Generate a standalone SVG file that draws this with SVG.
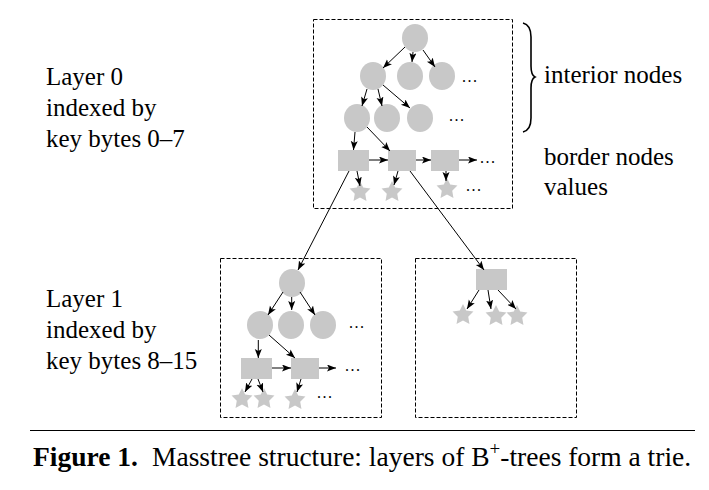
<svg xmlns="http://www.w3.org/2000/svg" width="709" height="490" viewBox="0 0 709 490">
<style>
.box{fill:none;stroke:#000;stroke-width:1;stroke-dasharray:4,2}
.nd{fill:#c8c8c8;stroke:none}
.cn line{stroke:#000;stroke-width:1}
.lbl{font-family:"Liberation Serif","Times New Roman",serif;font-size:25px;fill:#000}
.dots{font-family:"Liberation Serif","Times New Roman",serif;font-size:16px;fill:#000;letter-spacing:1.5px}
.cap{font-family:"Liberation Serif","Times New Roman",serif;font-size:27.5px;fill:#000}
</style>
<defs>
<marker id="ah" markerUnits="userSpaceOnUse" markerWidth="11" markerHeight="9" refX="9" refY="3.5" orient="auto">
<path d="M0,0 L9,3.5 L0,7 L2,3.5 z" fill="#000"/>
</marker>
<polygon id="star" points="0,-11 3.23,-4.45 10.46,-3.4 5.23,1.7 6.47,8.9 0,5.5 -6.47,8.9 -5.23,1.7 -10.46,-3.4 -3.23,-4.45"/>
</defs>
<rect width="709" height="490" fill="#fff"/>

<g id="layer0">
<rect class="box" x="313.5" y="19.5" width="199" height="189"/>
<g id="l0-interior" class="nd">
<ellipse cx="415" cy="38" rx="13" ry="14"/>
<ellipse cx="373" cy="76" rx="13" ry="14"/>
<ellipse cx="410" cy="76" rx="13" ry="14"/>
<ellipse cx="442" cy="76" rx="13" ry="14"/>
<ellipse cx="357" cy="118" rx="13" ry="14"/>
<ellipse cx="387" cy="118" rx="13" ry="14"/>
<ellipse cx="420" cy="118" rx="13" ry="14"/>
</g>
<g id="l0-border" class="nd">
<rect x="338" y="150" width="31" height="21"/>
<rect x="388" y="150" width="28" height="21"/>
<rect x="431" y="150" width="28" height="21"/>
</g>
<g id="l0-values" class="nd">
<use href="#star" x="360" y="192"/>
<use href="#star" x="392" y="192"/>
<use href="#star" x="447" y="189"/>
</g>
<text class="dots" x="462" y="82">...</text>
<text class="dots" x="449" y="121">...</text>
<text class="dots" x="480" y="163">...</text>
<text class="dots" x="466" y="191">...</text>
</g>

<g id="layer1-a">
<rect class="box" x="220.5" y="258.5" width="161" height="159"/>
<g class="nd">
<ellipse cx="292" cy="283" rx="13" ry="14"/>
<ellipse cx="260" cy="325" rx="13" ry="14"/>
<ellipse cx="291" cy="325" rx="13" ry="14"/>
<ellipse cx="323" cy="325" rx="13" ry="14"/>
<rect x="241" y="358" width="31" height="21"/>
<rect x="291" y="358" width="28" height="21"/>
<use href="#star" x="242" y="399"/>
<use href="#star" x="264" y="399"/>
<use href="#star" x="295" y="400"/>
</g>
<text class="dots" x="349" y="328">...</text>
<text class="dots" x="345" y="371">...</text>
<text class="dots" x="317" y="398">...</text>
</g>

<g id="layer1-b">
<rect class="box" x="415.5" y="258.5" width="161" height="159"/>
<g class="nd">
<rect x="476" y="269" width="31" height="21"/>
<use href="#star" x="463" y="315"/>
<use href="#star" x="496" y="316"/>
<use href="#star" x="517" y="316"/>
</g>
</g>

<g id="connectors" class="cn">
<line x1="405" y1="47" x2="383" y2="68" marker-end="url(#ah)"/>
<line x1="413" y1="52" x2="412" y2="62" marker-end="url(#ah)"/>
<line x1="423" y1="50" x2="435" y2="67" marker-end="url(#ah)"/>
<line x1="367" y1="89" x2="362" y2="106" marker-end="url(#ah)"/>
<line x1="378" y1="89" x2="382" y2="106" marker-end="url(#ah)"/>
<line x1="383" y1="85" x2="410" y2="108" marker-end="url(#ah)"/>
<line x1="355" y1="132" x2="353.5" y2="150" marker-end="url(#ah)"/>
<line x1="367" y1="127" x2="390" y2="151" marker-end="url(#ah)"/>
<line x1="369" y1="160" x2="388" y2="160" marker-end="url(#ah)"/>
<line x1="416" y1="160" x2="431" y2="160" marker-end="url(#ah)"/>
<line x1="459" y1="160" x2="477" y2="160" marker-end="url(#ah)"/>
<line x1="357" y1="171" x2="360" y2="186" marker-end="url(#ah)"/>
<line x1="398" y1="171" x2="394" y2="185" marker-end="url(#ah)"/>
<line x1="446" y1="171" x2="446" y2="181" marker-end="url(#ah)"/>
<line x1="349" y1="171" x2="298" y2="270" marker-end="url(#ah)"/>
<line x1="410" y1="171" x2="484" y2="270" marker-end="url(#ah)"/>
<line x1="283" y1="292" x2="268" y2="315" marker-end="url(#ah)"/>
<line x1="291.7" y1="297" x2="291.7" y2="310" marker-end="url(#ah)"/>
<line x1="300" y1="292" x2="315" y2="315" marker-end="url(#ah)"/>
<line x1="258.3" y1="340" x2="258.3" y2="358" marker-end="url(#ah)"/>
<line x1="269" y1="335" x2="295" y2="358" marker-end="url(#ah)"/>
<line x1="272" y1="368" x2="291" y2="368" marker-end="url(#ah)"/>
<line x1="319" y1="368" x2="336" y2="368" marker-end="url(#ah)"/>
<line x1="252" y1="379" x2="245" y2="392" marker-end="url(#ah)"/>
<line x1="258" y1="379" x2="263" y2="392" marker-end="url(#ah)"/>
<line x1="301" y1="379" x2="297" y2="392" marker-end="url(#ah)"/>
<line x1="479" y1="290" x2="467" y2="309" marker-end="url(#ah)"/>
<line x1="488" y1="290" x2="491" y2="309" marker-end="url(#ah)"/>
<line x1="498" y1="290" x2="516" y2="309" marker-end="url(#ah)"/>
</g>

<g id="legend">
<path d="M523,23 Q531,25 531,37 L531,66 Q531,75 535,77 Q531,79 531,88 L531,118 Q531,130 523,132" fill="none" stroke="#000" stroke-width="1.6"/>
<text class="lbl" x="544" y="83">interior nodes</text>
<text class="lbl" x="544" y="165">border nodes</text>
<text class="lbl" x="544" y="195">values</text>
</g>

<g id="labels">
<text class="lbl" x="46" y="85">Layer 0</text>
<text class="lbl" x="46" y="116">indexed by</text>
<text class="lbl" x="46" y="147">key bytes 0–7</text>
<text class="lbl" x="46" y="307">Layer 1</text>
<text class="lbl" x="46" y="338">indexed by</text>
<text class="lbl" x="46" y="369">key bytes 8–15</text>
</g>

<g id="caption">
<line x1="30" y1="430.5" x2="695" y2="430.5" stroke="#000" stroke-width="1"/>
<text class="cap" x="33" y="466"><tspan font-weight="bold">Figure 1.</tspan><tspan x="152">Masstree structure: layers of B</tspan><tspan font-size="19" dy="-11">+</tspan><tspan dy="11">-trees form a trie.</tspan></text>
</g>
</svg>
